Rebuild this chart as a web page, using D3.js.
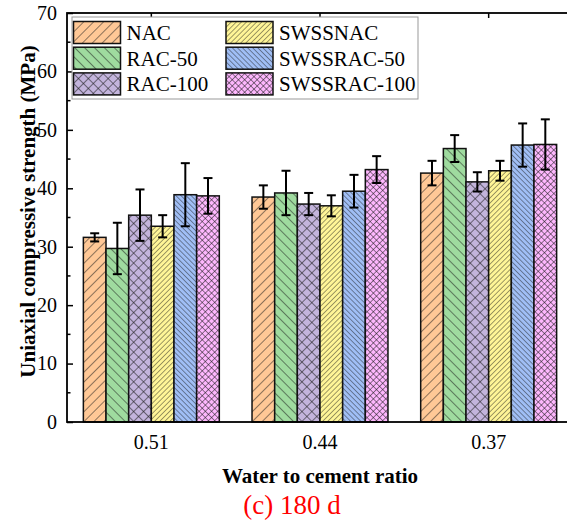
<!DOCTYPE html>
<html>
<head>
<meta charset="utf-8">
<script src="https://cdn.jsdelivr.net/npm/d3@7"></script>
<style>
  html, body { margin: 0; padding: 0; background: #fff; }
  svg { display: block; font-family: "Liberation Serif", "Times New Roman", serif; }
</style>
</head>
<body>
<svg id="chart" width="567" height="521"></svg>
<script>
// Water-to-cement ratios on the x axis
const ratios = ["0.51", "0.44", "0.37"];
// Mix designs (series)
const mixes = ["NAC", "RAC-50", "RAC-100", "SWSSNAC", "SWSSRAC-50", "SWSSRAC-100"];
// Mean 180-day uniaxial compressive strength (MPa), one row per mix, one entry per ratio
const nac        = [31.6, 38.5, 42.6];
const rac50      = [29.7, 39.2, 46.8];
const rac100     = [35.4, 37.3, 41.1];
const swssnac    = [33.5, 37.0, 43.0];
const swssrac50  = [38.9, 39.5, 47.4];
const swssrac100 = [38.7, 43.2, 47.5];
// Standard deviations (MPa)
const nacErr        = [0.7, 2.0, 2.1];
const rac50Err      = [4.4, 3.8, 2.3];
const rac100Err     = [4.4, 1.9, 1.65];
const swssnacErr    = [1.9, 1.8, 1.7];
const swssrac50Err  = [5.4, 2.8, 3.7];
const swssrac100Err = [3.05, 2.3, 4.3];
const yTicks = [0, 10, 20, 30, 40, 50, 60, 70];

const means = [nac, rac50, rac100, swssnac, swssrac50, swssrac100];
const errs  = [nacErr, rac50Err, rac100Err, swssnacErr, swssrac50Err, swssrac100Err];

const fills = ["#FFC896", "#9FDB9F", "#C3B4DC", "#FFF597", "#A0BEF5", "#FDB7FD"];
// hatch style per mix: kind, spacing, line width
const hatches = [
  { kind: "fwd",   s: 7,   w: 1 },
  { kind: "back",  s: 7,   w: 1 },
  { kind: "cross", s: 7,   w: 1.1 },
  { kind: "fwd",   s: 3.6, w: 0.85 },
  { kind: "back",  s: 3.6, w: 0.85 },
  { kind: "cross", s: 4.4, w: 1 }
];

const svg = d3.select("#chart");
const plotL = 67, plotR = 573, plotT = 13, plotB = 422;

const x0 = d3.scaleBand().domain(ratios).range([plotL, plotR])
  .paddingInner(0.194).paddingOuter(0.097);
const x1 = d3.scaleBand().domain(mixes).range([0, x0.bandwidth()]).padding(0);
const y = d3.scaleLinear().domain([0, 70]).range([plotB, plotT]);

// hatch patterns
const defs = svg.append("defs");
hatches.forEach((h, i) => {
  const p = defs.append("pattern")
    .attr("id", "pat" + i)
    .attr("patternUnits", "userSpaceOnUse")
    .attr("width", h.s).attr("height", h.s)
    .attr("patternTransform", h.kind === "back" ? "rotate(-45)" : "rotate(45)");
  p.append("rect").attr("width", h.s).attr("height", h.s).attr("fill", fills[i]);
  p.append("line").attr("x1", 0).attr("y1", 0).attr("x2", 0).attr("y2", h.s)
    .attr("stroke", "#1a1a1a").attr("stroke-width", h.w);
  if (h.kind === "cross") {
    p.append("line").attr("x1", 0).attr("y1", 0).attr("x2", h.s).attr("y2", 0)
      .attr("stroke", "#1a1a1a").attr("stroke-width", h.w);
  }
});

// bars
const rows = [];
ratios.forEach((r, ri) => {
  mixes.forEach((m, mi) => {
    rows.push({ r, m, mi, v: means[mi][ri], e: errs[mi][ri] });
  });
});

const g = svg.append("g");
g.selectAll("rect.bar").data(rows).join("rect")
  .attr("class", "bar")
  .attr("x", d => x0(d.r) + x1(d.m))
  .attr("y", d => y(d.v))
  .attr("width", x1.bandwidth())
  .attr("height", d => y(0) - y(d.v))
  .attr("fill", d => `url(#pat${d.mi})`)
  .attr("stroke", "#111").attr("stroke-width", 1.5);

// error bars
const capW = 9;
const cx = d => x0(d.r) + x1(d.m) + x1.bandwidth() / 2;
const eb = g.selectAll("g.err").data(rows).join("g").attr("class", "err")
  .attr("stroke", "#000").attr("stroke-width", 2);
eb.append("line")
  .attr("x1", cx).attr("x2", cx)
  .attr("y1", d => y(d.v + d.e)).attr("y2", d => y(d.v - d.e));
eb.append("line")
  .attr("x1", d => cx(d) - capW / 2).attr("x2", d => cx(d) + capW / 2)
  .attr("y1", d => y(d.v + d.e)).attr("y2", d => y(d.v + d.e));
eb.append("line")
  .attr("x1", d => cx(d) - capW / 2).attr("x2", d => cx(d) + capW / 2)
  .attr("y1", d => y(d.v - d.e)).attr("y2", d => y(d.v - d.e));

// axes
const yAxis = d3.axisLeft(y).tickValues(yTicks).tickSize(-6).tickPadding(10).tickFormat(d3.format("d"));
const ya = svg.append("g").attr("transform", `translate(${plotL},0)`).call(yAxis);
ya.select(".domain").remove();
ya.selectAll(".tick line").attr("stroke", "#000").attr("stroke-width", 1.5);
ya.selectAll(".tick text").attr("font-size", 20).attr("fill", "#000")
  .attr("font-family", "Liberation Serif, serif");

const minor = d3.range(5, 70, 10);
svg.append("g").selectAll("line").data(minor).join("line")
  .attr("x1", plotL).attr("x2", plotL + 3.5)
  .attr("y1", d => y(d)).attr("y2", d => y(d))
  .attr("stroke", "#000").attr("stroke-width", 1.5);

const xAxis = d3.axisBottom(x0).tickSize(0).tickPadding(13);
const xa = svg.append("g").attr("transform", `translate(0,${plotB})`).call(xAxis);
xa.select(".domain").remove();
xa.selectAll(".tick text").attr("font-size", 20).attr("fill", "#000")
  .attr("font-family", "Liberation Serif, serif");

// top axis ticks pointing inward
svg.append("g").selectAll("line").data(ratios).join("line")
  .attr("x1", d => x0(d) + x0.bandwidth() / 2).attr("x2", d => x0(d) + x0.bandwidth() / 2)
  .attr("y1", plotT).attr("y2", plotT + 5)
  .attr("stroke", "#000").attr("stroke-width", 1.5);

// frame
svg.append("rect").attr("x", plotL).attr("y", plotT)
  .attr("width", plotR - plotL).attr("height", plotB - plotT)
  .attr("fill", "none").attr("stroke", "#000").attr("stroke-width", 1.8);

// axis titles
svg.append("text")
  .attr("transform", `translate(35,${(plotT + plotB) / 2 - 6}) rotate(-90)`)
  .attr("text-anchor", "middle").attr("font-weight", "bold").attr("font-size", 21)
  .text("Uniaxial compressive strength (MPa)");
svg.append("text")
  .attr("x", 320).attr("y", 483).attr("text-anchor", "middle")
  .attr("font-weight", "bold").attr("font-size", 21)
  .text("Water to cement ratio");
svg.append("text")
  .attr("x", 292).attr("y", 514).attr("text-anchor", "middle")
  .attr("font-size", 27).attr("fill", "#FF0000")
  .text("(c) 180 d");

// legend: column 1 NAC, RAC-50, RAC-100; column 2 the SWSS variants
const lg = svg.append("g");
lg.append("rect").attr("x", 72).attr("y", 17).attr("width", 346).attr("height", 82)
  .attr("fill", "#fff").attr("stroke", "#999").attr("stroke-width", 1);
const legendItems = mixes.map((m, i) => ({ m, i, col: i < 3 ? 0 : 1, row: i % 3 }));
const li = lg.selectAll("g.li").data(legendItems).join("g").attr("class", "li")
  .attr("transform", d => `translate(${d.col ? 226 : 73.5},${21.5 + d.row * 25.7})`);
li.append("rect").attr("width", 47).attr("height", 22)
  .attr("fill", d => `url(#pat${d.i})`).attr("stroke", "#111").attr("stroke-width", 1.5);
li.append("text").attr("x", 53).attr("y", 18.5).attr("font-size", 21).attr("fill", "#000")
  .text(d => d.m);
</script>
</body>
</html>
